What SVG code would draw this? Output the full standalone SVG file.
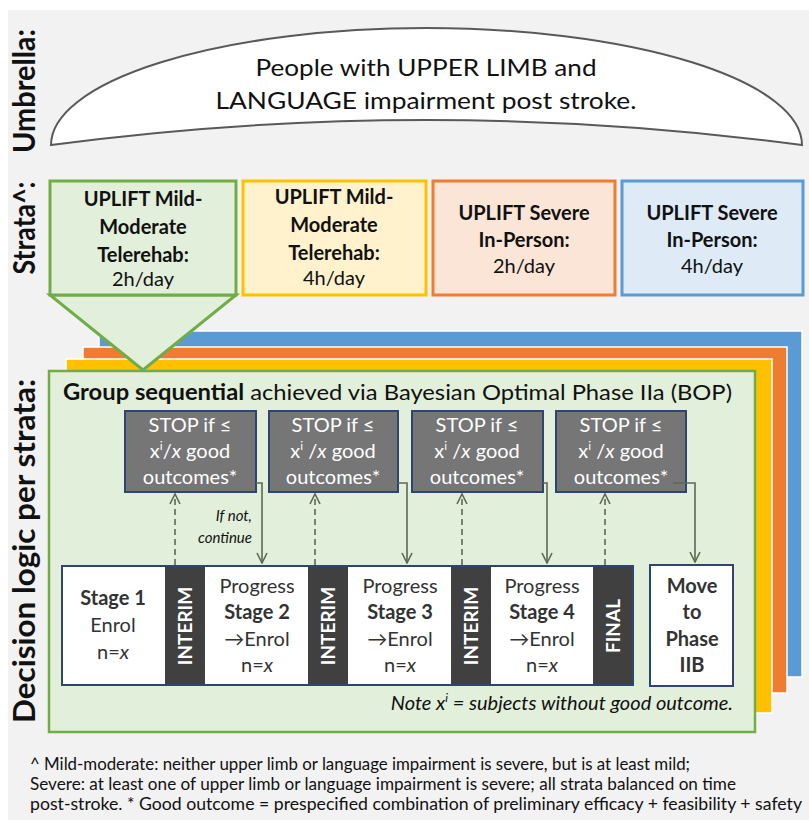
<svg xmlns="http://www.w3.org/2000/svg" width="809" height="820" viewBox="0 0 809 820">
<defs>
<style>
text{font-family:Lato,"Open Sans","Liberation Sans",sans-serif;fill:#111;}
.vl{font-size:30px;font-weight:bold;text-anchor:middle;}
.um{font-size:24px;text-anchor:middle;}
.st{font-size:20px;text-anchor:middle;}
.b{font-weight:bold;}
.stop rect{fill:#767676;stroke:#2f4470;stroke-width:2;}
.stop text{fill:#fff;font-size:20px;text-anchor:middle;}
.stage text{font-size:20px;text-anchor:middle;fill:#333;}
.bar rect{fill:#404040;}
.stage .bar .vt{fill:#fff;font-size:19px;font-weight:bold;text-anchor:middle;}
.con path{fill:none;stroke:#5b6b52;stroke-width:1.6;}
.dash{stroke-dasharray:6 4;marker-end:url(#ah);}
.solid{marker-end:url(#ah);}
.fn{font-size:16.5px;fill:#111;}
</style>
<marker id="ah" viewBox="0 0 12 12" refX="11" refY="6" markerWidth="12" markerHeight="12" markerUnits="userSpaceOnUse" orient="auto">
<path d="M1,1 L11,6 L1,11" fill="none" stroke="#5b6b52" stroke-width="1.6" stroke-dasharray="none"/>
</marker>
</defs>
<rect width="809" height="820" fill="#ffffff"/>
<rect x="8" y="10" width="801" height="810" fill="#f2f2f2"/>

<g id="labels">
<text class="vl" transform="translate(35,91) rotate(-90)" textLength="124" lengthAdjust="spacingAndGlyphs">Umbrella:</text>
<text class="vl" transform="translate(35,228) rotate(-90)" textLength="93" lengthAdjust="spacingAndGlyphs">Strata^:</text>
<text class="vl" transform="translate(35,551) rotate(-90)" textLength="344" lengthAdjust="spacingAndGlyphs">Decision logic per strata:</text>
</g>

<g id="umbrella">
<path d="M51,145 A375.5,117 0 0 1 802,145 Q426,95 51,145 Z" fill="#fff" stroke="#595959" stroke-width="2"/>
<text class="um" x="426" y="76" textLength="341" lengthAdjust="spacingAndGlyphs">People with UPPER LIMB and</text>
<text class="um" x="426" y="109" textLength="421" lengthAdjust="spacingAndGlyphs">LANGUAGE impairment post stroke.</text>
</g>

<g id="panels">
<rect x="99" y="331" width="703" height="346" fill="#5b9bd5" stroke="#fff" stroke-width="1.5"/>
<rect x="83" y="347" width="704" height="346" fill="#ed7d31" stroke="#fff" stroke-width="1.5"/>
<rect x="66" y="359" width="706" height="354" fill="#ffc000" stroke="#fff" stroke-width="1.5"/>
<rect id="decision-panel" x="49" y="371" width="706" height="361" fill="#e2efda" stroke="#70ad47" stroke-width="2.5"/>
</g>

<g id="triangle">
<path d="M50,295 L236,295 L143,370 Z" fill="#e2efda" stroke="#70ad47" stroke-width="3" stroke-linejoin="miter"/>
</g>

<g id="stratum-1">
<rect x="50" y="181" width="186" height="114" fill="#e2efda" stroke="#70ad47" stroke-width="3"/>
<text class="st b" x="143" y="206">UPLIFT Mild-</text>
<text class="st b" x="143" y="234">Moderate</text>
<text class="st b" x="143" y="262">Telerehab:</text>
<text class="st" x="143" y="286">2h/day</text>
</g>
<g id="stratum-2">
<rect x="243" y="181" width="183" height="114" fill="#fff2cc" stroke="#ffc000" stroke-width="3"/>
<text class="st b" x="334" y="204">UPLIFT Mild-</text>
<text class="st b" x="334" y="232">Moderate</text>
<text class="st b" x="334" y="260">Telerehab:</text>
<text class="st" x="334" y="285">4h/day</text>
</g>
<g id="stratum-3">
<rect x="433" y="181" width="182" height="114" fill="#fbe5d6" stroke="#ed7d31" stroke-width="3"/>
<text class="st b" x="524" y="220">UPLIFT Severe</text>
<text class="st b" x="524" y="247">In-Person:</text>
<text class="st" x="524" y="273">2h/day</text>
</g>
<g id="stratum-4">
<rect x="622" y="181" width="181" height="114" fill="#deebf7" stroke="#5b9bd5" stroke-width="3"/>
<text class="st b" x="712" y="220">UPLIFT Severe</text>
<text class="st b" x="712" y="247">In-Person:</text>
<text class="st" x="712" y="273">4h/day</text>
</g>

<g id="title">
<text x="63" y="400" font-size="22" textLength="669" lengthAdjust="spacingAndGlyphs"><tspan font-weight="bold">Group sequential</tspan> achieved via Bayesian Optimal Phase IIa (BOP)</text>
</g>

<g id="stop-1" class="stop">
<rect x="125" y="411" width="131" height="81"/>
<text x="190" y="432">STOP if ≤</text>
<text x="190" y="458">x<tspan font-size="12" dy="-8">i</tspan><tspan dy="8">/</tspan><tspan font-style="italic">x</tspan> good</text>
<text x="190" y="484">outcomes*</text>
</g>
<g id="stop-2" class="stop">
<rect x="269" y="411" width="129" height="81"/>
<text x="333" y="432">STOP if ≤</text>
<text x="333" y="458">x<tspan font-size="12" dy="-8">i</tspan><tspan dy="8"> /</tspan><tspan font-style="italic">x</tspan> good</text>
<text x="333" y="484">outcomes*</text>
</g>
<g id="stop-3" class="stop">
<rect x="412" y="411" width="131" height="81"/>
<text x="477" y="432">STOP if ≤</text>
<text x="477" y="458">x<tspan font-size="12" dy="-8">i</tspan><tspan dy="8"> /</tspan><tspan font-style="italic">x</tspan> good</text>
<text x="477" y="484">outcomes*</text>
</g>
<g id="stop-4" class="stop">
<rect x="556" y="411" width="130" height="81"/>
<text x="621" y="432">STOP if ≤</text>
<text x="621" y="458">x<tspan font-size="12" dy="-8">i</tspan><tspan dy="8"> /</tspan><tspan font-style="italic">x</tspan> good</text>
<text x="621" y="484">outcomes*</text>
</g>

<g id="stages" class="stage">
<rect x="62" y="566" width="571" height="119" style="fill:#fff;stroke:none"/>
<g id="stage-1">
<text x="113" y="605" class="b">Stage 1</text>
<text x="113" y="632">Enrol</text>
<text x="113" y="659">n=<tspan font-style="italic">x</tspan></text>
</g>
<g id="interim-1" class="bar">
<rect x="165" y="566" width="40" height="119"/>
<text class="vt" transform="translate(192,626) rotate(-90)">INTERIM</text>
</g>
<g id="stage-2">
<text x="257" y="593">Progress</text>
<text x="257" y="619" class="b">Stage 2</text>
<text x="257" y="646">→Enrol</text>
<text x="257" y="672">n=<tspan font-style="italic">x</tspan></text>
</g>
<g id="interim-2" class="bar">
<rect x="308" y="566" width="40" height="119"/>
<text class="vt" transform="translate(335,626) rotate(-90)">INTERIM</text>
</g>
<g id="stage-3">
<text x="400" y="593">Progress</text>
<text x="400" y="619" class="b">Stage 3</text>
<text x="400" y="646">→Enrol</text>
<text x="400" y="672">n=<tspan font-style="italic">x</tspan></text>
</g>
<g id="interim-3" class="bar">
<rect x="451" y="566" width="40" height="119"/>
<text class="vt" transform="translate(478,626) rotate(-90)">INTERIM</text>
</g>
<g id="stage-4">
<text x="542" y="593">Progress</text>
<text x="542" y="619" class="b">Stage 4</text>
<text x="542" y="646">→Enrol</text>
<text x="542" y="672">n=<tspan font-style="italic">x</tspan></text>
</g>
<g id="final" class="bar">
<rect x="593" y="566" width="40" height="119"/>
<text class="vt" transform="translate(620,626) rotate(-90)">FINAL</text>
</g>
<rect x="62" y="566" width="571" height="119" style="fill:none;stroke:#2f4470;stroke-width:2"/>
</g>

<g id="move" class="stage">
<rect x="650" y="565" width="83" height="121" style="fill:#fff;stroke:#2f4470;stroke-width:2"/>
<text x="692" y="593" class="b">Move</text>
<text x="692" y="619" class="b">to</text>
<text x="692" y="646" class="b">Phase</text>
<text x="692" y="672" class="b">IIB</text>
</g>

<g id="connectors" class="con">
<path class="dash" d="M175,565 L175,494"/>
<path class="dash" d="M315,565 L315,494"/>
<path class="dash" d="M462,565 L462,494"/>
<path class="dash" d="M605,565 L605,494"/>
<path class="solid" d="M256,483 L262,483 L262,563"/>
<path class="solid" d="M398,483 L407,483 L407,563"/>
<path class="solid" d="M543,483 L547,483 L547,563"/>
<path class="solid" d="M673,483 L695,483 L695,562"/>
</g>

<g id="if-not">
<text x="252" y="521" font-size="15" font-style="italic" text-anchor="end">If not,</text>
<text x="252" y="543" font-size="15" font-style="italic" text-anchor="end">continue</text>
</g>

<g id="note">
<text x="733" y="710" font-size="20" font-style="italic" text-anchor="end">Note x<tspan font-size="12" dy="-8">i</tspan><tspan dy="8"> = subjects without good outcome.</tspan></text>
</g>

<g id="footnote">
<text class="fn" x="30" y="770" textLength="660" lengthAdjust="spacingAndGlyphs">^ Mild-moderate: neither upper limb or language impairment is severe, but is at least mild;</text>
<text class="fn" x="30" y="790" textLength="706" lengthAdjust="spacingAndGlyphs">Severe: at least one of upper limb or language impairment is severe; all strata balanced on time</text>
<text class="fn" x="30" y="810" textLength="772" lengthAdjust="spacingAndGlyphs">post-stroke. * Good outcome = prespecified combination of preliminary efficacy + feasibility + safety</text>
</g>
</svg>
